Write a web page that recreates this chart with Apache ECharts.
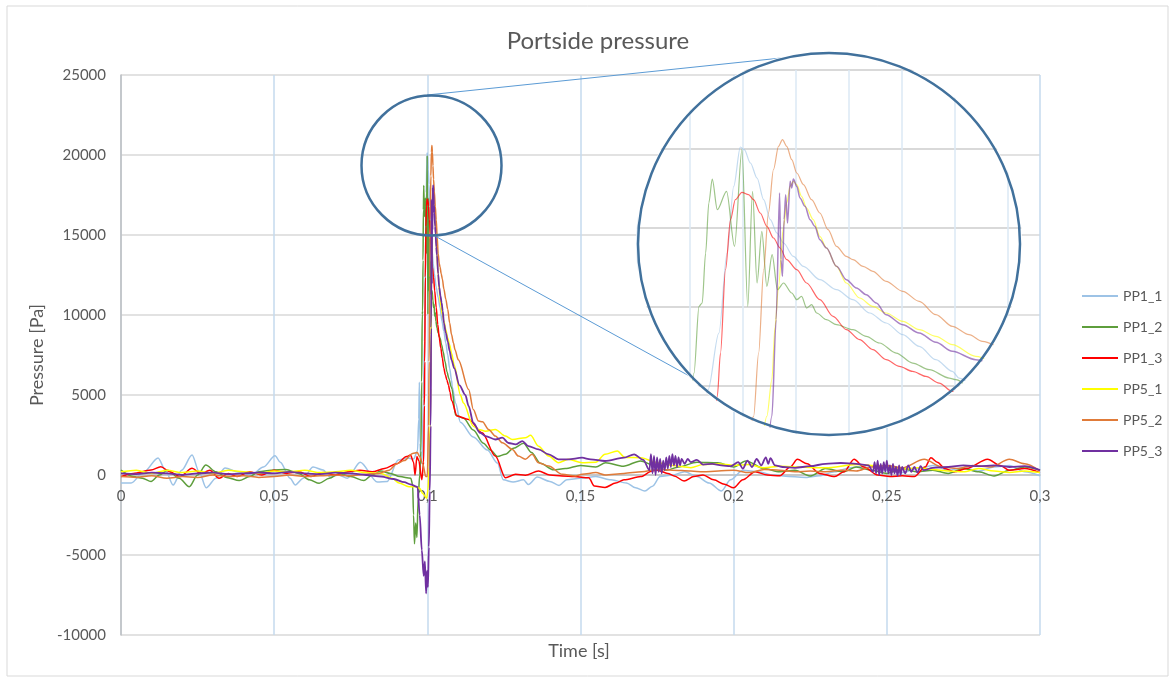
<!DOCTYPE html>
<html>
<head>
<meta charset="utf-8">
<script src="https://cdn.jsdelivr.net/npm/echarts@6/dist/echarts.min.js"></script>
<style>
html, body { margin: 0; padding: 0; background: #fff; overflow: hidden; }
#main { position: absolute; left: 0; top: 0; width: 1175px; height: 682px; }
#zoom { position: absolute; left: 584px; top: 50px; width: 477px; height: 420px;
        clip-path: circle(193px at 245px 194px); }
</style>
</head>
<body>
<div id="main"></div>
<div id="zoom"></div>
<script>
// time [s], pressure [Pa]
const names = ['PP1_1', 'PP1_2', 'PP1_3', 'PP5_1', 'PP5_2', 'PP5_3'];
const colors = ['#9dc3e6', '#5e9e3c', '#ff0000', '#ffff00', '#e07b39', '#7030a0'];
const xTicks = [0, 0.05, 0.1, 0.15, 0.2, 0.25, 0.3];
const yTicks = [-10000, -5000, 0, 5000, 10000, 15000, 20000, 25000];

const pp1_1 = [[0,-500],[0.0033,-500],[0.0075,200],[0.0121,1060],[0.0145,300],[0.017,-625],[0.0198,300],[0.0232,1250],[0.0255,200],[0.0278,-800],[0.031,-200],[0.034,440],[0.0382,190],[0.0425,0],[0.0465,500],[0.0503,1200],[0.052,800],[0.0552,-200],[0.0569,-625],[0.0595,-200],[0.0627,500],[0.066,310],[0.0683,-125],[0.071,0],[0.0739,-200],[0.0781,800],[0.0837,-440],[0.0869,-400],[0.0905,940],[0.0935,1060],[0.0955,1000],[0.0968,1500],[0.0972,3500],[0.0974,5800],[0.0976,2000],[0.0979,700],[0.0983,900],[0.09868,4766],[0.09909,8353],[0.0994,13417],[0.09965,17637],[0.0999,20127],[0.10005,19958],[0.10028,19114],[0.10053,18164],[0.10078,16793],[0.10103,15527],[0.10128,14683],[0.10153,14050],[0.1019,13206],[0.10228,12573],[0.1029,11729],[0.10353,11096],[0.10415,10463],[0.10478,9619],[0.1054,8986],[0.10603,8247],[0.10665,7509],[0.10728,6665],[0.1079,5926],[0.10815,5504],[0.1092,4500],[0.1108,3300],[0.115,2375],[0.1196,1560],[0.1229,750],[0.1248,-300],[0.128,-440],[0.1314,-300],[0.133,-600],[0.1359,-130],[0.14,-400],[0.143,-650],[0.1455,-300],[0.15,-200],[0.155,-100],[0.16,-300],[0.165,-500],[0.168,-800],[0.171,-1000],[0.1735,-700],[0.176,-100],[0.18,0],[0.184,200],[0.188,-100],[0.192,-500],[0.196,-1000],[0.199,-300],[0.203,300],[0.208,200],[0.213,0],[0.218,-100],[0.224,-150],[0.228,-50],[0.233,200],[0.238,450],[0.244,600],[0.25,300],[0.255,150],[0.26,400],[0.265,600],[0.27,300],[0.275,450],[0.28,250],[0.285,500],[0.29,600],[0.295,200],[0.3,-50]];

const pp1_2 = [[0,300],[0.004,-100],[0.007,-200],[0.0098,-400],[0.0125,0],[0.0152,300],[0.019,-200],[0.0223,-730],[0.025,0],[0.0277,620],[0.031,200],[0.0345,-150],[0.0386,-350],[0.042,-100],[0.045,200],[0.049,300],[0.0538,350],[0.058,100],[0.0615,-300],[0.0647,-520],[0.068,-200],[0.0712,100],[0.075,-100],[0.0793,-350],[0.082,0],[0.0848,250],[0.088,100],[0.091,-100],[0.0946,-200],[0.0952,-600],[0.0955,-2500],[0.0958,-4300],[0.0962,-3000],[0.0966,-3900],[0.097,-1500],[0.0975,0],[0.0979,1500],[0.09815,5821],[0.09834,10041],[0.09846,10252],[0.09859,13417],[0.09871,16582],[0.09884,18101],[0.09903,16160],[0.09938,17320],[0.09968,13839],[0.09996,19958],[0.10018,10041],[0.10036,17320],[0.10053,11518],[0.10071,14788],[0.1009,11307],[0.1011,13311],[0.1013,11096],[0.10153,11518],[0.10184,10885],[0.10203,10463],[0.10221,10674],[0.1024,9935],[0.10259,10146],[0.10278,9619],[0.10315,9197],[0.10353,8880],[0.10415,8564],[0.10465,8142],[0.10515,7720],[0.10578,7087],[0.1064,6454],[0.10703,6032],[0.10778,5504],[0.10803,5399],[0.1092,3750],[0.1118,3540],[0.115,2810],[0.1183,1980],[0.1206,1560],[0.1229,1150],[0.1255,1300],[0.1281,1670],[0.1314,1980],[0.134,1400],[0.1369,730],[0.1412,330],[0.145,400],[0.15,600],[0.155,500],[0.1582,770],[0.164,550],[0.1696,880],[0.174,600],[0.178,300],[0.182,500],[0.188,800],[0.1948,770],[0.2,500],[0.204,880],[0.21,400],[0.215,200],[0.22,300],[0.225,-60],[0.23,400],[0.236,200],[0.24,500],[0.245,300],[0.25,100],[0.255,400],[0.26,200],[0.265,300],[0.27,100],[0.275,400],[0.28,200],[0.285,-60],[0.29,300],[0.295,500],[0.3,300]];

const pp1_3 = [[0,-100],[0.004,100],[0.0098,310],[0.013,520],[0.016,200],[0.0192,-100],[0.0232,420],[0.026,100],[0.029,300],[0.032,-200],[0.035,100],[0.038,-100],[0.042,200],[0.046,0],[0.05,300],[0.054,100],[0.058,200],[0.062,-100],[0.066,150],[0.07,0],[0.074,200],[0.078,300],[0.082,200],[0.086,400],[0.09,700],[0.0932,1150],[0.0945,1250],[0.0955,800],[0.096,0],[0.0966,1150],[0.0972,900],[0.0982,-300],[0.0988,800],[0.09903,4344],[0.09915,7087],[0.09934,12362],[0.09953,15527],[0.09971,16793],[0.09996,17257],[0.10021,17109],[0.1004,16793],[0.10065,15949],[0.1009,15105],[0.10115,14366],[0.1014,13733],[0.10165,12995],[0.10203,12362],[0.1024,11518],[0.1029,10463],[0.1034,9408],[0.1039,8564],[0.1044,7931],[0.1049,7298],[0.1054,6665],[0.1059,6243],[0.1064,5926],[0.1069,5610],[0.1074,5188],[0.1079,4660],[0.1097,3680],[0.1135,3470],[0.1179,2640],[0.1222,1180],[0.1255,-170],[0.1288,40],[0.132,-20],[0.1363,250],[0.14,0],[0.144,-60],[0.148,-100],[0.1527,-170],[0.1545,-690],[0.158,-780],[0.1615,-500],[0.1642,-300],[0.1697,-100],[0.1733,250],[0.1751,300],[0.1785,100],[0.1806,-60],[0.1838,-375],[0.187,-100],[0.19,0],[0.1935,-300],[0.197,-580],[0.2,-800],[0.203,-300],[0.207,200],[0.211,0],[0.215,-50],[0.2185,500],[0.2208,980],[0.224,700],[0.228,100],[0.233,-100],[0.236,200],[0.2393,980],[0.2425,500],[0.247,0],[0.251,-100],[0.255,-50],[0.259,-100],[0.2625,500],[0.2644,1080],[0.2665,800],[0.269,400],[0.272,200],[0.276,400],[0.2829,980],[0.287,600],[0.29,300],[0.295,400],[0.3,150]];

const pp5_1 = [[0,200],[0.005,300],[0.01,100],[0.015,300],[0.02,150],[0.025,250],[0.03,100],[0.035,300],[0.04,200],[0.045,100],[0.05,250],[0.055,200],[0.06,300],[0.065,150],[0.07,200],[0.075,300],[0.08,150],[0.085,100],[0.0885,-200],[0.0908,-500],[0.094,-730],[0.0961,-730],[0.0975,-830],[0.0985,-1150],[0.0998,-1460],[0.1002,-900],[0.1006,500],[0.1009,3078],[0.10109,5399],[0.10121,8775],[0.10134,11307],[0.10153,15105],[0.10165,16582],[0.10178,17637],[0.1019,17953],[0.10203,17742],[0.10221,17004],[0.1024,16265],[0.10265,15527],[0.1029,14472],[0.10315,13733],[0.10353,12573],[0.1039,11518],[0.1044,10569],[0.1049,10041],[0.1054,9619],[0.10603,9091],[0.10665,8564],[0.10728,8142],[0.1079,7614],[0.10878,6876],[0.1108,5000],[0.1118,4500],[0.115,3050],[0.1167,2850],[0.119,2740],[0.1222,2850],[0.1255,2430],[0.1278,2220],[0.132,2330],[0.1337,2480],[0.1363,1800],[0.1396,1180],[0.1428,770],[0.146,980],[0.1505,770],[0.155,800],[0.158,1300],[0.162,1500],[0.1645,1100],[0.1697,1080],[0.1751,770],[0.18,600],[0.186,460],[0.19,650],[0.195,700],[0.2,600],[0.205,650],[0.21,450],[0.215,550],[0.22,500],[0.23,450],[0.24,650],[0.25,550],[0.255,350],[0.26,450],[0.265,350],[0.27,250],[0.275,200],[0.28,400],[0.285,250],[0.29,150],[0.295,250],[0.3,150]];

const pp5_2 = [[0,-100],[0.005,-150],[0.01,-50],[0.015,-200],[0.02,-100],[0.025,-150],[0.03,0],[0.035,-100],[0.04,-50],[0.045,-150],[0.05,-100],[0.055,0],[0.06,-100],[0.065,-50],[0.07,0],[0.075,-50],[0.08,50],[0.084,100],[0.0875,300],[0.09,700],[0.0925,900],[0.0952,1350],[0.0967,1400],[0.0975,1150],[0.0985,700],[0.0995,-100],[0.1,-100],[0.1004,3078],[0.10059,7087],[0.10078,12362],[0.10096,15949],[0.10115,18692],[0.10134,20169],[0.10149,20591],[0.10165,20169],[0.10184,19325],[0.10203,18481],[0.10228,17742],[0.10259,16793],[0.1029,15949],[0.10321,14894],[0.10353,13839],[0.1039,13206],[0.10415,12995],[0.10453,12573],[0.1049,12256],[0.1054,11623],[0.10603,10990],[0.10665,10357],[0.10728,9513],[0.1079,8775],[0.10853,8247],[0.10903,7825],[0.1101,7200],[0.1135,5340],[0.115,4100],[0.1167,3370],[0.118,3330],[0.12,2850],[0.1222,2430],[0.1245,2015],[0.1278,1600],[0.1297,1180],[0.132,980],[0.1342,1290],[0.1363,770],[0.1396,560],[0.1441,40],[0.1484,-60],[0.1505,50],[0.155,150],[0.158,0],[0.1642,100],[0.17,200],[0.1751,350],[0.18,300],[0.186,250],[0.19,200],[0.195,250],[0.2,300],[0.205,150],[0.21,350],[0.215,300],[0.22,200],[0.225,250],[0.23,200],[0.235,300],[0.24,250],[0.245,500],[0.25,600],[0.255,450],[0.2622,980],[0.268,500],[0.273,400],[0.278,600],[0.284,500],[0.29,980],[0.295,700],[0.3,250]];

const pp5_3 = [[0,100],[0.005,50],[0.01,150],[0.015,100],[0.02,0],[0.025,100],[0.03,150],[0.035,50],[0.04,100],[0.045,150],[0.05,100],[0.055,200],[0.06,100],[0.065,50],[0.07,150],[0.075,100],[0.08,0],[0.085,-100],[0.089,-250],[0.0925,-450],[0.0944,-580],[0.0968,-750],[0.0975,-2500],[0.0982,-4700],[0.0988,-6300],[0.0992,-5400],[0.0996,-7400],[0.0999,-6000],[0.1002,-7000],[0.1005,-4500],[0.1008,-1000],[0.10109,3078],[0.10125,9197],[0.10138,17215],[0.10143,12995],[0.10149,11940],[0.10155,15527],[0.10161,17109],[0.10168,15316],[0.10178,17953],[0.10184,17531],[0.1019,18101],[0.10203,17637],[0.10215,16898],[0.10234,16371],[0.10253,15527],[0.10271,15105],[0.1029,14261],[0.10315,13733],[0.10353,12573],[0.1039,11729],[0.10428,11201],[0.10465,10779],[0.10503,10252],[0.1054,9513],[0.10603,8880],[0.10665,8353],[0.10728,7762],[0.1079,7192],[0.10878,6665],[0.1105,5600],[0.1124,5000],[0.1135,4300],[0.115,3260],[0.1172,2640],[0.119,2430],[0.1222,2220],[0.1245,2330],[0.1265,2000],[0.1288,1910],[0.131,2120],[0.133,1800],[0.1363,1600],[0.1396,1290],[0.1428,980],[0.146,980],[0.1505,1080],[0.1533,980],[0.158,875],[0.1642,1080],[0.1675,1290],[0.1705,950],[0.1725,300],[0.173,1300],[0.1735,100],[0.174,1200],[0.1745,0],[0.175,1100],[0.1755,200],[0.176,1000],[0.1765,100],[0.177,900],[0.1775,300],[0.178,1100],[0.1785,400],[0.179,1200],[0.1795,500],[0.18,1300],[0.1805,600],[0.181,1200],[0.1815,500],[0.182,1100],[0.1825,600],[0.183,1000],[0.184,700],[0.185,1000],[0.186,800],[0.188,950],[0.19,650],[0.193,700],[0.196,600],[0.199,550],[0.2015,800],[0.203,400],[0.2045,900],[0.206,500],[0.2075,1000],[0.209,600],[0.2105,1100],[0.2113,700],[0.212,1050],[0.2135,600],[0.216,500],[0.22,450],[0.225,550],[0.23,700],[0.235,750],[0.24,700],[0.244,600],[0.2455,200],[0.246,800],[0.2465,100],[0.247,900],[0.2475,0],[0.248,700],[0.2485,100],[0.249,800],[0.2495,200],[0.25,900],[0.2505,100],[0.251,600],[0.2515,0],[0.252,700],[0.2525,100],[0.253,500],[0.2535,-50],[0.254,600],[0.2545,0],[0.255,500],[0.256,100],[0.257,600],[0.258,200],[0.259,500],[0.26,150],[0.261,550],[0.262,300],[0.265,450],[0.27,500],[0.275,600],[0.28,550],[0.285,600],[0.29,500],[0.295,550],[0.3,300]];

const allData = [pp1_1, pp1_2, pp1_3, pp5_1, pp5_2, pp5_3];

const FONT = 'Lato, "Open Sans", sans-serif';
const GREY = '#595959';

function makeSeries(width, opacity) {
    return names.map(function (n, i) {
        return {
            name: n,
            type: 'line',
            data: allData[i],
            symbol: 'none',
            smooth: 0.3,
            smoothMonotone: 'x',
            lineStyle: {color: colors[i], width: i === 5 ? width + 0.3 : width, opacity: opacity},
            itemStyle: {color: colors[i]},
            emphasis: {disabled: true}
        };
    });
}

const main = echarts.init(document.getElementById('main'));
main.setOption({
    animation: false,
    backgroundColor: '#fff',
    title: {
        text: 'Portside pressure',
        left: 593, top: 24, textAlign: 'center',
        textStyle: {fontFamily: FONT, fontSize: 24, fontWeight: 'normal', color: GREY}
    },
    legend: {
        data: names,
        orient: 'vertical',
        left: 1077, top: 284,
        icon: 'rect',
        itemWidth: 36, itemHeight: 2, itemGap: 17,
        textStyle: {fontFamily: FONT, fontSize: 14, lineHeight: 14, color: GREY}
    },
    grid: {left: 121, right: 135, top: 75, bottom: 47},
    xAxis: {
        type: 'value',
        position: 'bottom',
        offset: -160, // axis sits on the zero line
        min: xTicks[0], max: xTicks[xTicks.length - 1], interval: 0.05,
        axisLine: {onZero: false, lineStyle: {color: '#bfbfbf', width: 1.5}},
        axisTick: {show: false},
        axisLabel: {
            fontFamily: FONT, fontSize: 15, color: GREY, margin: 14,
            formatter: function (v) { return String(+v.toFixed(2)).replace('.', ','); }
        },
        splitLine: {show: true, lineStyle: {color: '#c5daee', width: 1.5}}
    },
    yAxis: {
        type: 'value',
        min: yTicks[0], max: yTicks[yTicks.length - 1], interval: 5000,
        name: 'Pressure [Pa]', nameLocation: 'middle', nameGap: 63,
        nameTextStyle: {fontFamily: FONT, fontSize: 18, color: GREY},
        axisLine: {show: true, onZero: false, lineStyle: {color: '#bfbfbf', width: 1.5}},
        axisTick: {show: false},
        axisLabel: {fontFamily: FONT, fontSize: 15, color: GREY, margin: 15,
            formatter: function (v) { return String(v); }},
        splitLine: {lineStyle: {color: '#d9d9d9', width: 1.5}}
    },
    graphic: [
        {type: 'rect', shape: {x: 7, y: 6, width: 1161, height: 670}, silent: true,
         style: {fill: 'none', stroke: '#d9d9d9', lineWidth: 1}, z: -1},
        {type: 'text', x: 579, y: 651, silent: true,
         style: {text: 'Time [s]', fontFamily: FONT, fontSize: 18, fill: GREY, align: 'center', verticalAlign: 'middle'}},
        {type: 'line', shape: {x1: 427, y1: 95, x2: 829, y2: 53}, silent: true, z: 50,
         style: {stroke: '#5b9bd5', lineWidth: 1}},
        {type: 'line', shape: {x1: 435, y1: 236, x2: 693, y2: 378}, silent: true, z: 50,
         style: {stroke: '#5b9bd5', lineWidth: 1}},
        {type: 'circle', shape: {cx: 431.5, cy: 165.5, r: 70}, silent: true, z: 50,
         style: {fill: 'none', stroke: '#41719c', lineWidth: 2.5}}
    ],
    series: makeSeries(1.5, 1)
});

// magnified inset, clipped to a circle by its container
const zoom = echarts.init(document.getElementById('zoom'));
zoom.setOption({
    animation: false,
    backgroundColor: '#fff',
    grid: {left: 0, right: 0, top: 20, bottom: 5},
    xAxis: {
        type: 'value', min: 0.094, max: 0.112, interval: 0.002,
        axisLine: {show: false}, axisTick: {show: false}, axisLabel: {show: false},
        splitLine: {lineStyle: {color: '#dbe8f5', width: 1.5}}
    },
    yAxis: {
        type: 'value', min: 0, max: 25000, interval: 5000,
        axisLine: {show: false}, axisTick: {show: false}, axisLabel: {show: false},
        splitLine: {lineStyle: {color: '#d9d9d9', width: 2}}
    },
    graphic: [
        {type: 'circle', shape: {cx: 245, cy: 194, r: 191}, silent: true, z: 100,
         style: {fill: 'none', stroke: '#41719c', lineWidth: 2.5}}
    ],
    series: makeSeries(1.2, 0.6)
});
</script>
</body>
</html>
